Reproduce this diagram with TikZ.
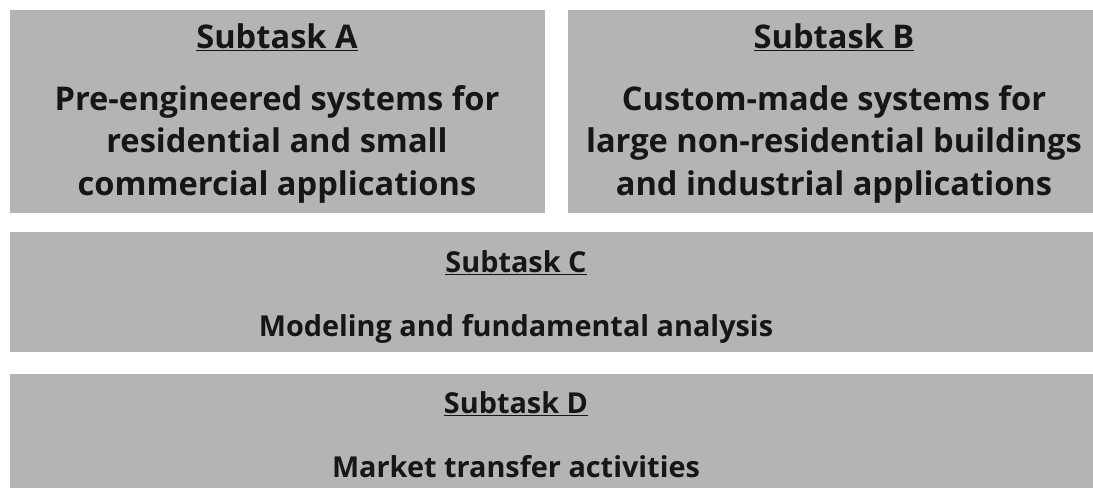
\documentclass[tikz,border=0pt]{standalone}
\usepackage{fontspec}
\setmainfont{Open Sans}
\usepackage{tikz}

\definecolor{boxgray}{RGB}{180,180,180}
\definecolor{inkgray}{RGB}{22,22,22}

\begin{document}
\begin{tikzpicture}[x=0.025cm, y=-0.025cm,
  head/.style={anchor=base, inner sep=0pt, text=inkgray,
    font=\fontsize{20.5}{29.9}\selectfont\bfseries},
  bighead/.style={head, font=\fontsize{23.2}{29.9}\selectfont\bfseries},
  body/.style={bighead, align=center}]
\useasboundingbox (0,0) rectangle (1093,488);

% the four panels
\fill[boxgray] (10,10) rectangle (545,213);
\fill[boxgray] (568,10) rectangle (1093,213);
\fill[boxgray] (10,232) rectangle (1093,352);
\fill[boxgray] (10,374) rectangle (1093,488);

% headings
\node[bighead] (headA) at (277,48) {\underline{Subtask A}};
\node[bighead] (headB) at (834,48) {\underline{Subtask B}};
\node[head] (headC) at (516,272) {\underline{Subtask C}};
\node[head] (headD) at (516,413) {\underline{Subtask D}};

% texts (base = last line)
\node[body] (textA) at (277,195) {Pre-engineered systems for\\residential and small\\commercial applications};
\node[body] (textB) at (834,195) {Custom-made systems for\\large non-residential buildings\\and industrial applications};
\node[head] (textC) at (516,336) {Modeling and fundamental analysis};
\node[head] (textD) at (516,477) {Market transfer activities};

\end{tikzpicture}
\end{document}
